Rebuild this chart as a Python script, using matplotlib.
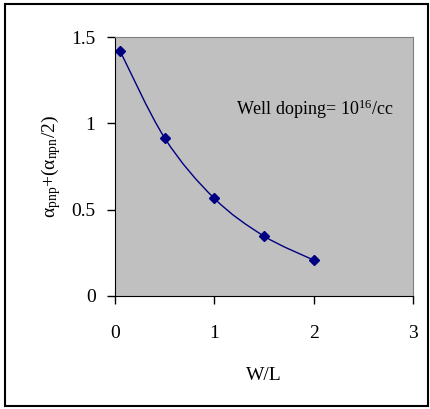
import matplotlib
matplotlib.use('Agg')
import matplotlib.pyplot as plt
from matplotlib.path import Path
from matplotlib.patches import PathPatch, Rectangle
import numpy as np

plt.rcParams['font.family'] = 'Liberation Serif'
plt.rcParams['mathtext.fontset'] = 'custom'
plt.rcParams['mathtext.rm'] = 'Liberation Serif'
plt.rcParams['mathtext.it'] = 'Liberation Serif:italic'

w_over_l = [0.05, 0.5, 1.0, 1.5, 2.0]
alpha_sum = [1.42, 0.915, 0.565, 0.347, 0.208]

def smooth_path(xs, ys, t=1/6):
    # Excel-style smooth line: cubic Bezier segments through the points
    pts = np.column_stack([xs, ys])
    n = len(pts)
    verts = [pts[0]]
    codes = [Path.MOVETO]
    for i in range(n - 1):
        p0 = pts[max(i - 1, 0)]
        p1 = pts[i]
        p2 = pts[i + 1]
        p3 = pts[min(i + 2, n - 1)]
        c1 = p1 + (p2 - p0) * t
        c2 = p2 - (p3 - p1) * t
        verts += [c1, c2, p2]
        codes += [Path.CURVE4] * 3
    return Path(verts, codes)

fig = plt.figure(figsize=(4.3, 4.09), dpi=100)
fig.patches.append(Rectangle((5/430, 3/409), 423/430, 402/409, transform=fig.transFigure,
                             fill=False, edgecolor='black', linewidth=1.5))

ax = fig.add_axes([115/430, 1 - 296/409, 298/430, 259/409])
ax.set_facecolor('#c0c0c0')

ax.add_patch(PathPatch(smooth_path(w_over_l, alpha_sum), fill=False,
                       edgecolor='#000080', linewidth=1.0))
ax.plot(w_over_l, alpha_sum, linestyle='none', marker='D', markersize=5.5,
        color='#000080')

ax.set_xlim(0, 3)
ax.set_ylim(0, 1.5)
ax.set_xticks([0, 1, 2, 3])
ax.set_yticks([0, 0.5, 1, 1.5])
ax.set_xticklabels(['0', '1', '2', '3'])
ax.set_yticklabels(['0', '0.5', '1', '1.5'])
ax.tick_params(direction='out', length=6, width=1, labelsize=14, color='black')
ax.tick_params(axis='y', pad=8)
ax.tick_params(axis='x', pad=15)

for s in ['top', 'right']:
    ax.spines[s].set_color('#808080')
for s in ['left', 'bottom']:
    ax.spines[s].set_color('black')

ax.set_xlabel('W/L', fontsize=14, labelpad=18)
ax.set_ylabel('α$_{\\mathrm{pnp}}$+(α$_{\\mathrm{npn}}$/2)', fontsize=14, labelpad=6)

ax.text(1.22, 1.08, r'Well doping= 10$^{16}$/cc', fontsize=13, va='center')

fig.savefig('out.png', dpi=100)
